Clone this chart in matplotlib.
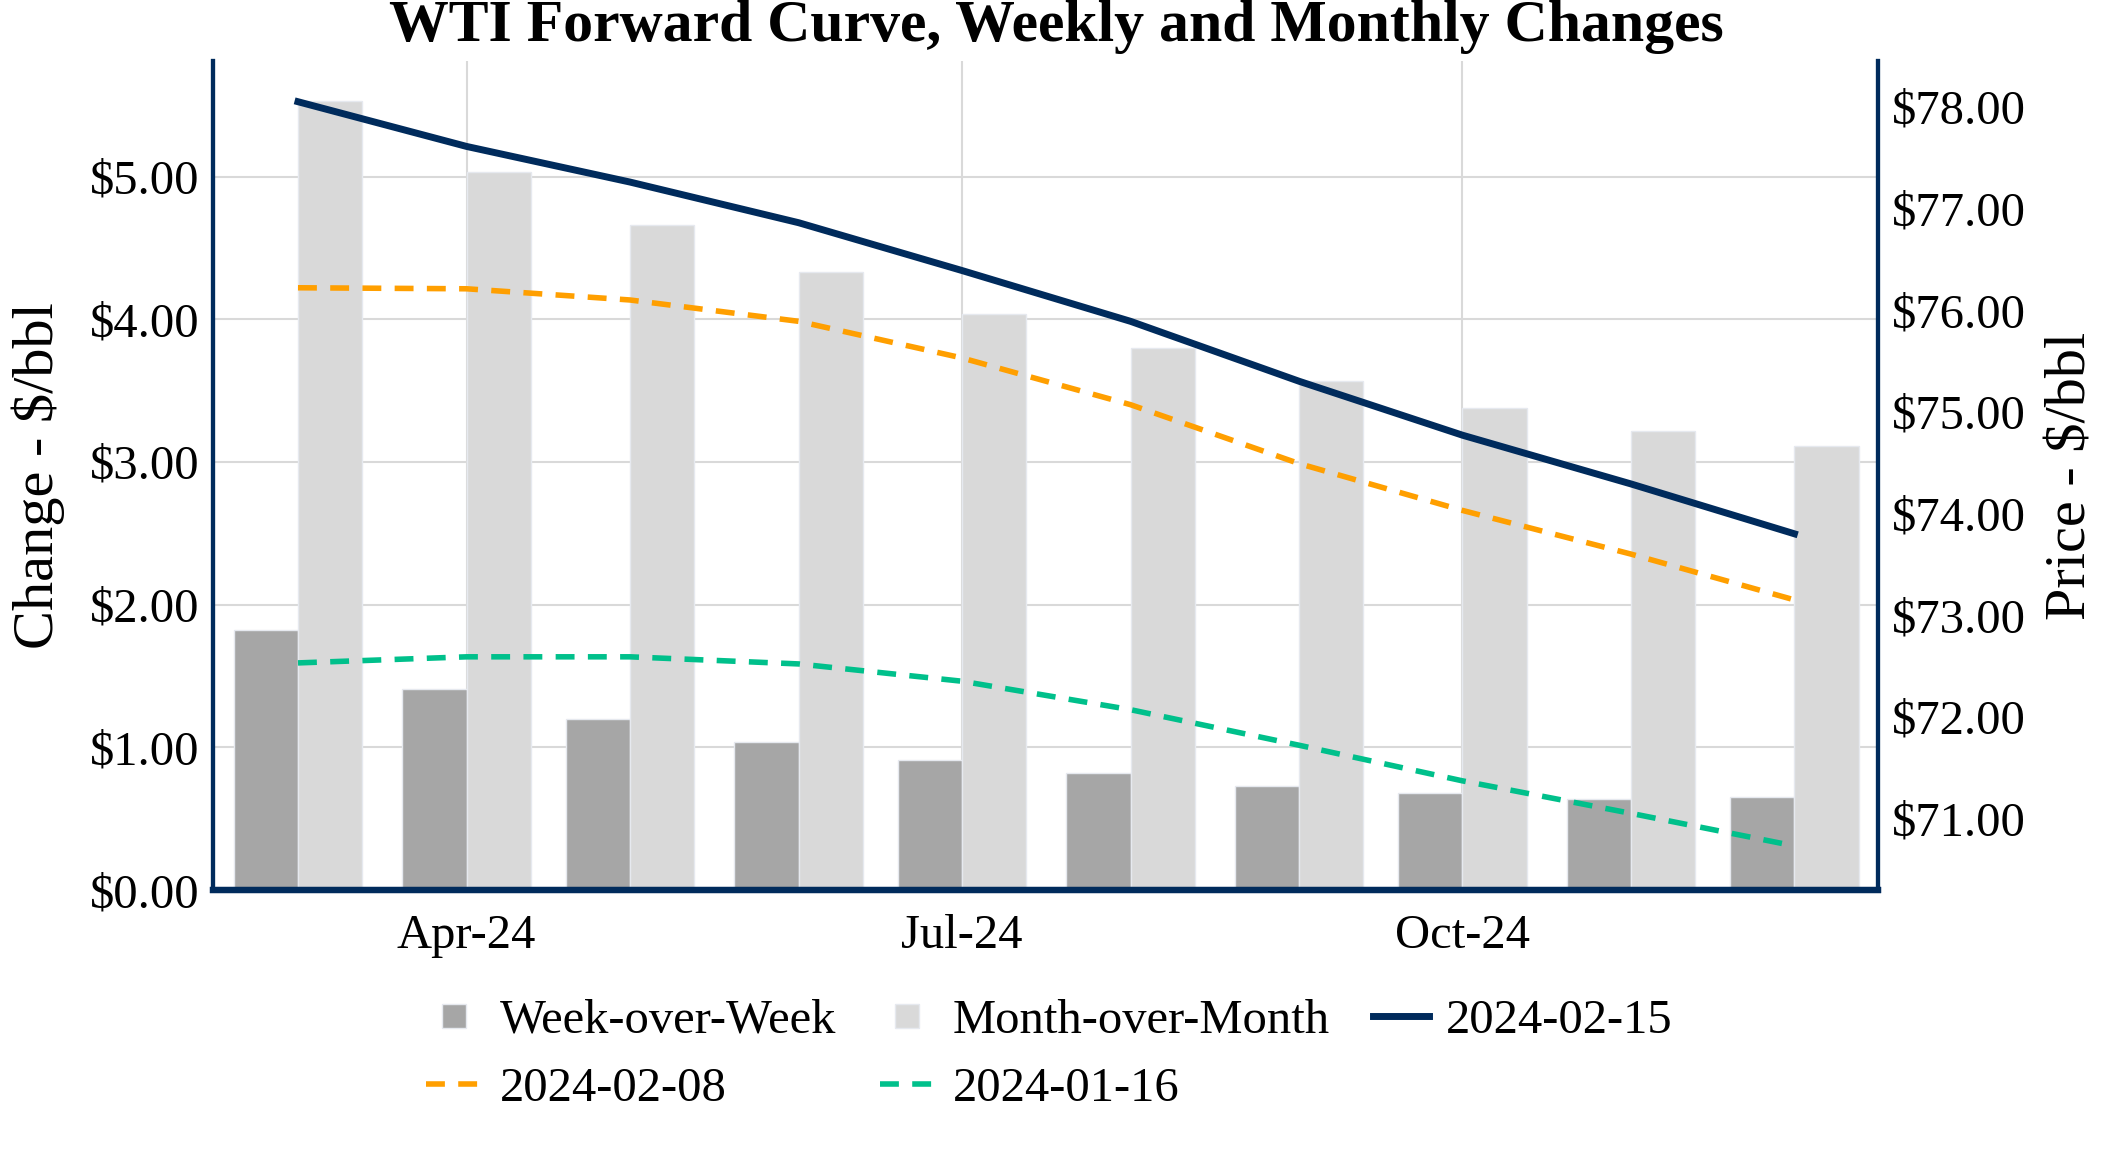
import numpy as np
import pandas as pd
import matplotlib
matplotlib.use("Agg")
import matplotlib.pyplot as plt
import matplotlib.dates as mdates
from matplotlib.lines import Line2D
from matplotlib.ticker import FuncFormatter, MultipleLocator

# Data
months = pd.date_range("2024-03-01", periods=10, freq="MS")
wow_change = [1.82, 1.41, 1.20, 1.04, 0.91, 0.82, 0.73, 0.68, 0.64, 0.65]
mom_change = [5.53, 5.03, 4.66, 4.33, 4.04, 3.80, 3.57, 3.38, 3.22, 3.11]
curve_0215 = [78.05, 77.61, 77.26, 76.86, 76.39, 75.89, 75.30, 74.77, 74.29, 73.80]
curve_0208 = [76.22, 76.21, 76.10, 75.89, 75.53, 75.07, 74.49, 74.03, 73.60, 73.15]
curve_0116 = [72.53, 72.59, 72.59, 72.52, 72.35, 72.07, 71.72, 71.37, 71.05, 70.73]

NAVY = "#002b5c"
ORANGE = "#ff9f00"
GREEN = "#00c08b"
WOW_COL = "#a6a6a6"
MOM_COL = "#d9d9d9"
GRID = "#d9d9d9"
EDGE = "#e6e9ef"

plt.rcParams["font.family"] = ["Liberation Serif", "DejaVu Serif"]
plt.rcParams["text.parse_math"] = False

fig = plt.figure(figsize=(21.12, 11.52), dpi=100)
ax1 = fig.add_axes([0.1009, 0.2274, 0.7884, 0.7196])
ax2 = ax1.twinx()

x = mdates.date2num(months)
bw = 11.8
ax1.bar(x - bw / 2, wow_change, width=bw, color=WOW_COL, edgecolor=EDGE, linewidth=1)
ax1.bar(x + bw / 2, mom_change, width=bw, color=MOM_COL, edgecolor=EDGE, linewidth=1)

dash = (0, (3.4, 2.4))
l1, = ax2.plot(x, curve_0215, color=NAVY, lw=5, label="2024-02-15")
l2, = ax2.plot(x, curve_0208, color=ORANGE, lw=4, ls=dash, label="2024-02-08")
l3, = ax2.plot(x, curve_0116, color=GREEN, lw=4, ls=dash, label="2024-01-16")

ax1.set_xlim(x[0] - 15.6, x[-1] + 15.4)
ax1.set_ylim(0, 5.81)
ax2.set_ylim(70.296, 78.45)

money = FuncFormatter(lambda v, p: f"${v:.2f}")
ax1.yaxis.set_major_locator(MultipleLocator(1))
ax1.yaxis.set_major_formatter(money)
ax2.yaxis.set_major_locator(MultipleLocator(1))
ax2.yaxis.set_major_formatter(money)

ax1.xaxis.set_major_locator(mdates.MonthLocator(bymonth=[4, 7, 10]))
ax1.xaxis.set_major_formatter(mdates.DateFormatter("%b-%y"))

ax1.set_axisbelow(True)
ax1.grid(True, color=GRID, lw=1.5)

for ax in (ax1, ax2):
    ax.tick_params(length=0, labelsize=35, pad=10)
    ax.spines["top"].set_visible(False)
    for s in ("left", "right"):
        ax.spines[s].set_color(NAVY)
        ax.spines[s].set_linewidth(3)
    ax.spines["bottom"].set_color(NAVY)
    ax.spines["bottom"].set_linewidth(4.5)
ax1.tick_params(axis="x", pad=17)

ax1.set_ylabel("Change - $/bbl", fontsize=42, labelpad=18)
ax2.set_ylabel("Price - $/bbl", fontsize=42, labelpad=14)

fig.suptitle("WTI Forward Curve, Weekly and Monthly Changes",
             x=0.5, y=1 - 27 / 1152, va="center", fontsize=43,
             fontweight="bold")

# legend: square swatches for the bars, like the original
h_wow = Line2D([], [], ls="none", marker="s", markersize=17, color=WOW_COL,
               markeredgecolor=EDGE, label="Week-over-Week")
h_mom = Line2D([], [], ls="none", marker="s", markersize=17, color=MOM_COL,
               markeredgecolor=EDGE, label="Month-over-Month")
handles = [h_wow, l2, h_mom, l3, l1]
fig.legend(handles, [h.get_label() for h in handles], ncol=3,
           loc="upper center", bbox_to_anchor=(0.497, 0.171),
           frameon=False, fontsize=35, handlelength=1.15,
           handletextpad=0.35, columnspacing=0.9, labelspacing=0.5)

fig.savefig("out.png", dpi=100)
